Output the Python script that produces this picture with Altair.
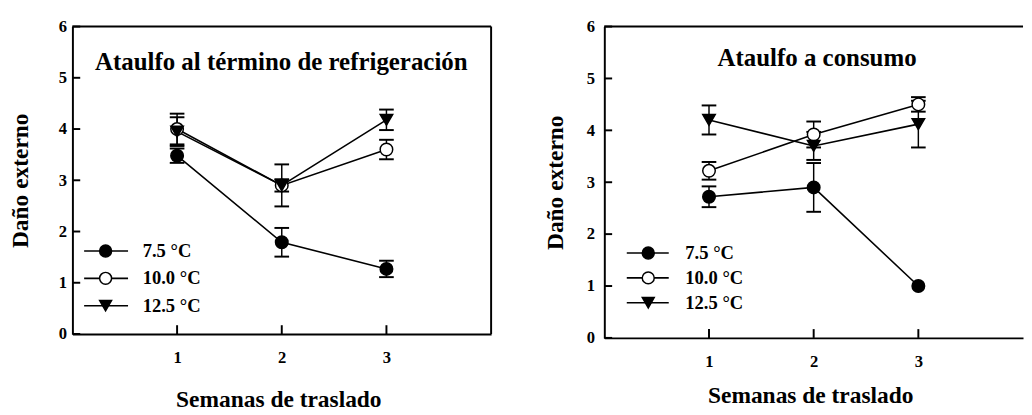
import altair as alt
import pandas as pd

weeks = [1, 2, 3]
temps = ["7.5 °C", "10.0 °C", "12.5 °C"]
shapes = ["circle", "circle", "triangle-down"]
fills = ["black", "white", "black"]

# Ataulfo al término de refrigeración
ref_75 = [3.48, 1.79, 1.27]
ref_100 = [4.00, 2.90, 3.60]
ref_125 = [3.95, 2.90, 4.18]
ref_75_err = [0.14, 0.28, 0.16]
ref_100_err = [0.30, 0.12, 0.19]
ref_125_err = [0.28, 0.41, 0.20]

# Ataulfo a consumo
con_75 = [2.72, 2.90, 1.00]
con_100 = [3.22, 3.92, 4.50]
con_125 = [4.20, 3.70, 4.12]
con_75_err = [0.20, 0.47, 0.00]
con_100_err = [0.17, 0.25, 0.14]
con_125_err = [0.28, 0.27, 0.45]

y_ticks = [0, 1, 2, 3, 4, 5, 6]
x_ticks = [1, 2, 3]

FONT = "Liberation Serif"


def make_df(means, errs):
    rows = []
    for t, m, e in zip(temps, means, errs):
        for w, v, s in zip(weeks, m, e):
            rows.append({"temp": t, "week": w, "dano": v, "err": s,
                         "lo": v - s, "hi": v + s})
    return pd.DataFrame(rows)


def panel(title, means, errs, W, H, xmax, tx, ty, leg, ylab_pad, ytitle_pad,
          right_frame, xtitle_x, xtitle_pad):
    df = make_df(means, errs)
    xs = alt.Scale(domain=[0, xmax], nice=False, zero=False)
    ys = alt.Scale(domain=[0, 6], nice=False)
    xax = alt.Axis(values=x_ticks, title="Semanas de traslado", ticks=False,
                   grid=False, labelPadding=16, titlePadding=xtitle_pad,
                   titleX=xtitle_x, format="d")
    yax = alt.Axis(values=y_ticks, title="Daño externo", ticks=False,
                   grid=False, labelPadding=ylab_pad, titlePadding=ytitle_pad,
                   format="d")
    shape = alt.Shape("temp:N", scale=alt.Scale(domain=temps, range=shapes), legend=None)
    fill = alt.Fill("temp:N", scale=alt.Scale(domain=temps, range=fills), legend=None)

    base = alt.Chart(df)
    errd = base.transform_filter("datum.err > 0")
    bars = errd.mark_rule(color="black", strokeWidth=1.5).encode(
        x=alt.X("week:Q", scale=xs, axis=xax),
        y=alt.Y("lo:Q", scale=ys, axis=yax), y2="hi:Q")
    cap_hi = errd.mark_tick(orient="horizontal", size=15, thickness=2,
                            color="black", opacity=1).encode(x="week:Q", y="hi:Q")
    cap_lo = errd.mark_tick(orient="horizontal", size=15, thickness=2,
                            color="black", opacity=1).encode(x="week:Q", y="lo:Q")
    lines = base.mark_line(color="black", strokeWidth=1.6).encode(
        x="week:Q", y="dano:Q", detail="temp:N")
    pts = base.mark_point(size=165, stroke="black", strokeWidth=1.5,
                          opacity=1, fillOpacity=1).encode(
        x="week:Q", y="dano:Q", shape=shape, fill=fill)

    one = pd.DataFrame({"t": [title]})
    ttl = alt.Chart(one).mark_text(font=FONT, fontSize=25.5, fontWeight="bold",
                                   color="black", baseline="middle").encode(
        x=alt.value(tx), y=alt.value(ty), text="t:N")
    top = alt.Chart(one).mark_rule(color="black", strokeWidth=2).encode(
        x=alt.value(0), x2=alt.value(W), y=alt.value(0))
    layers = [bars, cap_hi, cap_lo, lines, pts, ttl, top]
    if right_frame:
        layers.append(alt.Chart(one).mark_rule(color="black", strokeWidth=2).encode(
            x=alt.value(W), y=alt.value(0), y2=alt.value(H)))

    td = pd.DataFrame({"v": y_ticks})
    layers.append(alt.Chart(td).mark_rule(color="black", strokeWidth=2).encode(
        y="v:Q", x=alt.value(0), x2=alt.value(8)))
    xd = pd.DataFrame({"w": x_ticks})
    layers.append(alt.Chart(xd).mark_rule(color="black", strokeWidth=2).encode(
        x="w:Q", y=alt.value(H), y2=alt.value(H - 9)))

    lx0, lx1, lsx, ltx, ly0, ldy = leg
    for i, t in enumerate(temps):
        ld = pd.DataFrame({"temp": [t]})
        yy = ly0 + i * ldy
        layers.append(alt.Chart(ld).mark_rule(color="black", strokeWidth=1.6).encode(
            x=alt.value(lx0), x2=alt.value(lx1), y=alt.value(yy)))
        layers.append(alt.Chart(ld).mark_point(size=150, stroke="black", strokeWidth=1.5,
                                               opacity=1, fillOpacity=1).encode(
            x=alt.value(lsx), y=alt.value(yy), shape=shape, fill=fill))
        layers.append(alt.Chart(ld).mark_text(font=FONT, fontSize=19, fontWeight="bold",
                                              align="left", baseline="middle",
                                              color="black").encode(
            x=alt.value(ltx), y=alt.value(yy), text="temp:N"))

    return alt.layer(*layers).properties(width=W, height=H)


left = panel("Ataulfo al término de refrigeración",
             [ref_75, ref_100, ref_125], [ref_75_err, ref_100_err, ref_125_err],
             429, 315, 4, 214, 36, (12, 57, 34, 72, 230, 28), 6, 27, True, 211, 23)
right = panel("Ataulfo a consumo",
              [con_75, con_100, con_125], [con_75_err, con_100_err, con_125_err],
              429, 319, 4, 218, 32, (23, 66, 45, 83, 232, 25.5), 10, 19, False, 211, 15)

chart = alt.hconcat(left, right, spacing=53).properties(
    padding={"left": 0, "top": 5, "right": 0, "bottom": 0},
    background="white"
).configure_view(stroke=None).configure_axis(
    labelFont=FONT, labelFontSize=17, labelFontWeight="bold", labelColor="black",
    titleFont=FONT, titleFontSize=24, titleFontWeight="bold", titleColor="black",
    domainColor="black", domainWidth=2
)

chart.save("out.html", embed_options={"renderer": "svg", "actions": False})
